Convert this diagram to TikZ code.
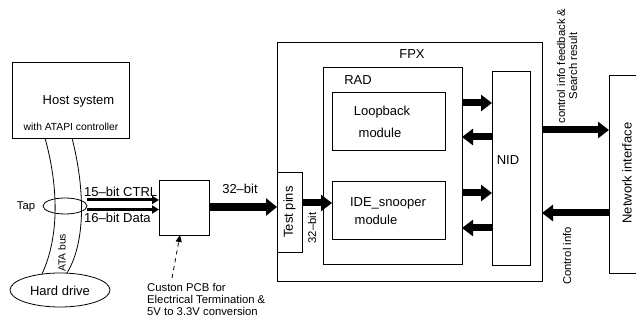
\documentclass[tikz,border=0pt]{standalone}
\usepackage{fontspec}
\setmainfont{Liberation Sans}
\usetikzlibrary{arrows.meta,shapes.geometric}

\tikzset{
  box/.style={draw, line width=0.8pt, rectangle, inner sep=0pt, outer sep=0pt},
  oval/.style={draw, line width=0.8pt, ellipse, inner sep=0pt, outer sep=0pt},
  txt/.style={inner sep=0pt, font=\fontsize{13}{15}\selectfont},
  smalltxt/.style={inner sep=0pt, font=\fontsize{11.3}{12}\selectfont},
  tinytxt/.style={inner sep=0pt, font=\fontsize{10.3}{12}\selectfont},
  bigarrow/.style={line width=7pt, -{Triangle[length=11pt,width=16pt]}},
  busarrow/.style={line width=8.5pt, -{Triangle[length=11pt,width=17pt]}},
  wirearrow/.style={line width=3pt, -{Triangle[length=7pt,width=8pt]}},
  notearrow/.style={line width=0.8pt, dash pattern=on 4pt off 4pt, -{Triangle[length=7pt,width=6pt]}},
  buscurve/.style={line width=0.8pt}
}

\begin{document}
\begin{tikzpicture}[x=1pt,y=-1pt]
\useasboundingbox (0,0) rectangle (636,328);

% ---- host side ----
\node[box, minimum width=117pt, minimum height=76pt] (host) at (70.5,100) {};
\node[txt] (hosttxt) at (78.5,101) {Host system};
\node[tinytxt] (atapi) at (71,127) {with ATAPI controller};

\node[oval, minimum width=100pt, minimum height=34pt] (hd) at (60,290) {};
\node[txt] (hdtxt) at (60,291) {Hard drive};

% ATA bus cable
\draw[buscurve] (45,0 |- host.south) .. controls (58,185) and (60,235) .. (42,274);
\draw[buscurve] (72,0 |- host.south) .. controls (84,185) and (87,240) .. (67,273);
\node[tinytxt, rotate=90] (atabus) at (62,253) {ATA bus};

\node[oval, minimum width=44pt, minimum height=16pt] (tap) at (65,206) {};
\node[smalltxt] (taptxt) at (26,207) {Tap};

% ---- termination board ----
\node[box, minimum width=50pt, minimum height=55pt] (pcb) at (184,207.5) {};
\draw[wirearrow] (tap.east |- 0,200) -- (pcb.west |- 0,200);
\draw[wirearrow] (tap.east |- 0,209.5) -- (pcb.west |- 0,209.5);
\node[txt, anchor=base west] (ctrl) at (84,196.5) {15--bit CTRL};
\node[txt, anchor=base west] (data) at (84,222.5) {16--bit Data};

\coordinate (notept) at (172,278);
\draw[notearrow] (notept) -- (180,0 |- pcb.south);
\node[smalltxt, anchor=north west, align=left] (note) at (147,283)
  {Custon PCB for\\Electrical Termination \&\\5V to 3.3V conversion};

% ---- FPX board ----
\node[box, minimum width=265pt, minimum height=239pt] (fpx) at (409.5,161.5) {};
\node[txt] (fpxtxt) at (412,54) {FPX};

\node[box, minimum width=25pt, minimum height=80pt] (pins) at (289.5,212) {};
\node[txt, rotate=90] (pinstxt) at (289.5,212) {Test pins};

\draw[busarrow] (pcb.east |- 0,207) -- (pins.west |- 0,207);
\node[txt] (bus32) at (240,189) {32--bit};

\node[box, minimum width=139pt, minimum height=197pt] (rad) at (392.5,165.5) {};
\node[txt] (radtxt) at (358,80) {RAD};

\node[box, minimum width=113pt, minimum height=58pt] (loop) at (388.5,121) {};
\node[txt] (looptxt) at (382,112) {Loopback};
\node[txt] (loopmod) at (380,133) {module};

\node[box, minimum width=113pt, minimum height=58pt] (ide) at (388.5,210) {};
\node[txt] (idetxt) at (388,203) {IDE\_snooper};
\node[txt] (idemod) at (376,220) {module};

\draw[bigarrow] (pins.east |- 0,203) -- (ide.west |- 0,203);
\node[smalltxt, rotate=90] (pins32) at (312,228) {32--bit};

\node[box, minimum width=38pt, minimum height=194pt] (nid) at (511,168) {};
\node[txt] (nidtxt) at (508,160) {NID};

\draw[bigarrow] (rad.east |- 0,103) -- (nid.west |- 0,103);
\draw[bigarrow] (nid.west |- 0,137) -- (rad.east |- 0,137);
\draw[bigarrow] (rad.east |- 0,193) -- (nid.west |- 0,193);
\draw[bigarrow] (nid.west |- 0,228) -- (rad.east |- 0,228);

% ---- network side ----
\node[box, minimum width=41pt, minimum height=198pt] (net) at (629.5,174) {};
\node[txt, rotate=90] (nettxt) at (627,173) {Network interface};

\draw[bigarrow] (fpx.east |- 0,130) -- (net.west |- 0,130);
\draw[bigarrow] (net.west |- 0,213) -- (fpx.east |- 0,213);

\node[smalltxt, rotate=90, align=center] (feedback) at (567,66)
  {control info feedback \&\\Search result};
\node[smalltxt, rotate=90] (ctrlinfo) at (567,256) {Control info};
\end{tikzpicture}
\end{document}
